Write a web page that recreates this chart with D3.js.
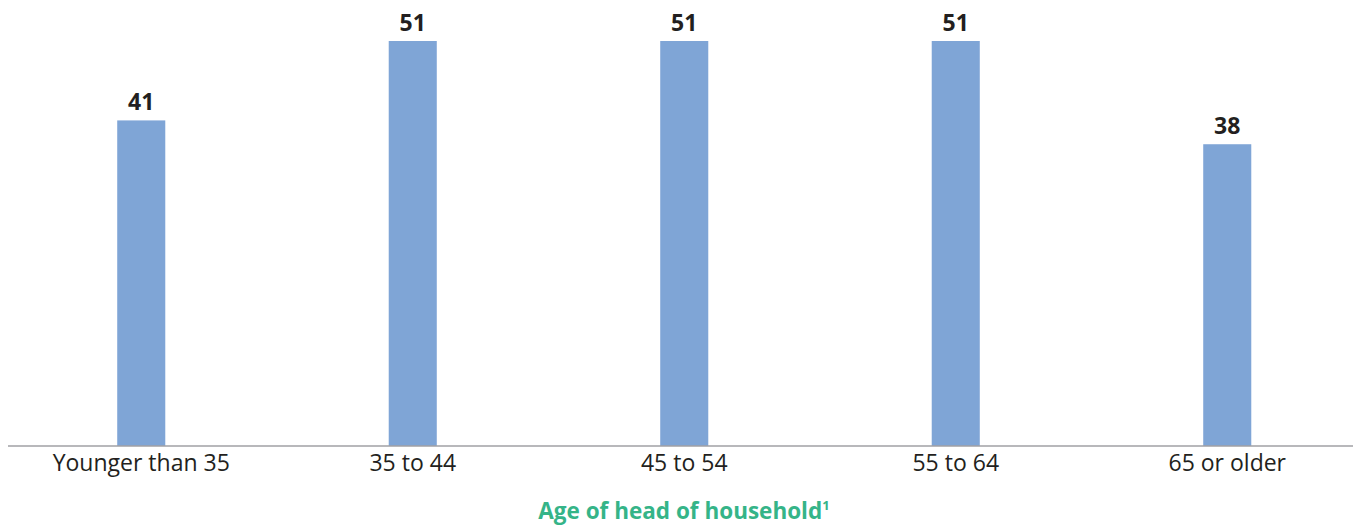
<!DOCTYPE html>
<html><head><meta charset="utf-8">
<script src="https://cdn.jsdelivr.net/npm/d3@7"></script>
<style>body{margin:0;background:#fff}svg{display:block}</style>
</head><body>
<svg id="c" width="1353" height="525"></svg>
<script>
const categories = ["Younger than 35", "35 to 44", "45 to 54", "55 to 64", "65 or older"];
const values = [41, 51, 51, 51, 38];
const axisTitle = "Age of head of household";

const svg = d3.select("#c");
const font = "'Open Sans', 'Noto Sans', sans-serif";
const x = d3.scaleBand().domain(categories).range([5.5, 1363]).paddingInner(0.823).paddingOuter(0.4115);
const y = d3.scaleLinear().domain([0, 51]).range([446, 41]);

svg.selectAll("rect.bar").data(values).join("rect")
  .attr("class","bar")
  .attr("x",(d,i)=>x(categories[i]))
  .attr("width",x.bandwidth())
  .attr("y",d=>y(d))
  .attr("height",d=>y(0)-y(d))
  .attr("fill","#7fa5d6");

svg.selectAll("text.val").data(values).join("text")
  .attr("class","val")
  .attr("x",(d,i)=>x(categories[i])+x.bandwidth()/2)
  .attr("y",d=>y(d)-10)
  .attr("text-anchor","middle")
  .attr("font-family",font).attr("font-weight","bold").attr("font-size","23px")
  .attr("fill","#231f20")
  .text(d=>d);

const ax = svg.append("g").attr("transform","translate(0,446)")
  .call(d3.axisBottom(x).tickSize(0).tickPadding(9));
ax.select(".domain").attr("stroke","#a0a0a4").attr("stroke-width",1.5).attr("d","M8,0H1353");
ax.selectAll("text").attr("font-family",font).attr("font-size","23px").attr("fill","#231f20");

const t = svg.append("text").attr("x",684).attr("y",519).attr("text-anchor","middle")
  .attr("font-family",font).attr("font-weight","bold").attr("font-size","22.5px").attr("fill","#35b488");
t.append("tspan").text(axisTitle);
t.append("tspan").attr("font-size","13px").attr("dy","-9").text("1");
</script>
</body></html>
